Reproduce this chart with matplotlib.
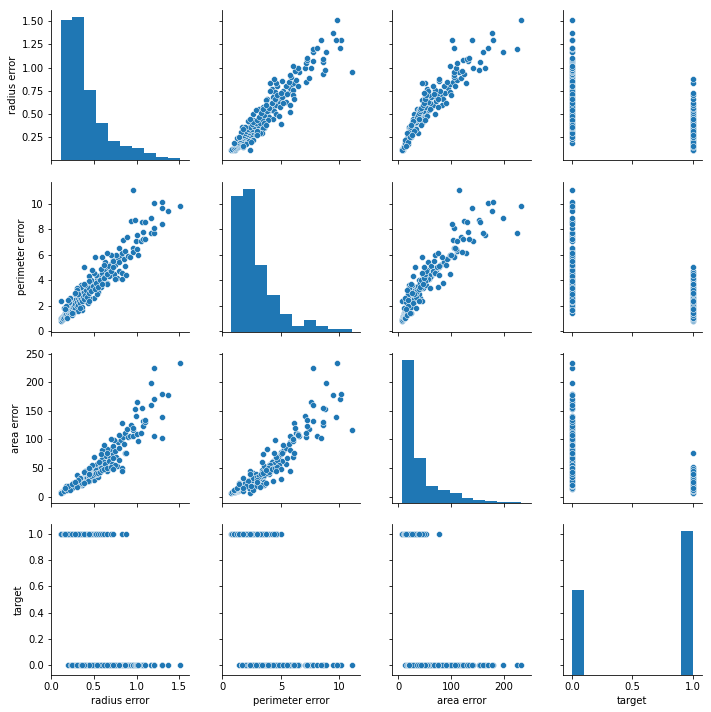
import numpy as np
import matplotlib
matplotlib.use('Agg')
import matplotlib.pyplot as plt

# benign samples (target = 1)
radius_benign = [0.112, 0.115, 0.120, 0.125, 0.130, 0.135, 0.140, 0.145, 0.150, 0.155,
                 0.160, 0.165, 0.170, 0.175, 0.180, 0.185, 0.190, 0.195, 0.200, 0.205,
                 0.210, 0.215, 0.220, 0.225, 0.230, 0.235, 0.240, 0.245, 0.250, 0.255,
                 0.260, 0.265, 0.270, 0.275, 0.280, 0.285, 0.290, 0.300, 0.305, 0.310,
                 0.320, 0.325, 0.330, 0.340, 0.345, 0.350, 0.360, 0.370, 0.380, 0.390,
                 0.400, 0.410, 0.420, 0.440, 0.450, 0.470, 0.490, 0.510, 0.530, 0.550,
                 0.570, 0.600, 0.620, 0.660, 0.700, 0.730, 0.830, 0.880, 0.115, 0.150,
                 0.210, 0.280, 0.350, 0.400, 0.300, 0.190, 0.240, 0.310, 0.360, 0.430,
                 0.180, 0.220, 0.260, 0.300, 0.340, 0.380, 0.200, 0.250, 0.320, 0.450,
                 0.280, 0.160]
perimeter_benign = [0.76, 0.95, 1.05, 0.85, 1.10, 0.98, 1.20, 1.05, 1.30, 1.15,
                    1.40, 1.25, 1.50, 1.10, 1.35, 1.60, 1.20, 1.45, 1.70, 1.30,
                    1.55, 1.85, 1.40, 1.65, 2.00, 1.50, 1.75, 2.10, 1.60, 1.90,
                    2.25, 1.70, 2.00, 2.35, 1.85, 2.15, 2.50, 1.95, 2.30, 2.60,
                    2.05, 2.40, 2.75, 2.20, 2.55, 2.90, 2.35, 2.70, 3.05, 2.50,
                    2.85, 3.20, 2.65, 3.00, 3.40, 3.15, 3.55, 3.30, 3.80, 3.45,
                    4.00, 3.70, 4.20, 4.50, 4.70, 5.00, 4.60, 4.40, 2.36, 1.80,
                    2.30, 2.90, 3.50, 3.60, 3.40, 1.00, 1.25, 1.60, 1.90, 2.20,
                    2.00, 2.60, 1.40, 3.20, 1.80, 3.70, 2.45, 1.45, 2.95, 2.40,
                    3.00, 1.75]
area_benign = [6.8, 7.5, 8.2, 7.9, 9.0, 8.6, 9.5, 10.1, 10.5, 11.0,
               11.5, 12.0, 12.4, 11.8, 13.0, 13.5, 14.0, 14.5, 15.0, 15.3,
               16.0, 16.5, 17.0, 17.4, 18.0, 17.0, 18.5, 19.0, 19.5, 20.0,
               20.5, 19.8, 21.0, 21.5, 22.0, 22.6, 23.0, 23.5, 24.0, 24.8,
               25.0, 25.5, 26.0, 26.5, 27.3, 28.0, 28.5, 29.0, 30.5, 30.0,
               31.5, 32.5, 33.0, 34.0, 35.5, 36.0, 38.0, 39.0, 41.5, 42.0,
               44.0, 46.0, 48.0, 50.0, 52.0, 49.0, 45.0, 77.0, 7.0, 10.0,
               14.5, 18.0, 22.0, 26.0, 21.0, 12.5, 16.0, 20.0, 24.0, 28.0,
               18.0, 12.0, 24.0, 17.0, 33.0, 24.0, 19.0, 23.0, 30.0, 40.0,
               26.0, 15.0]

# malignant samples (target = 0)
radius_malignant = [0.195, 0.230, 0.260, 0.280, 0.300, 0.320, 0.340, 0.360, 0.380, 0.390,
                    0.400, 0.420, 0.430, 0.450, 0.460, 0.480, 0.500, 0.500, 0.520, 0.520,
                    0.540, 0.550, 0.570, 0.590, 0.600, 0.620, 0.640, 0.650, 0.670, 0.690,
                    0.700, 0.720, 0.730, 0.750, 0.770, 0.780, 0.800, 0.820, 0.830, 0.830,
                    0.840, 0.850, 0.870, 0.890, 0.900, 0.920, 0.930, 0.953, 0.953, 0.960,
                    0.977, 0.990, 1.000, 1.000, 1.050, 1.060, 1.070, 1.080, 1.094, 1.100,
                    1.164, 1.170, 1.200, 1.210, 1.210, 1.297, 1.297, 1.297, 1.367, 1.509,
                    0.250, 0.310, 0.350, 0.410, 0.470, 0.530, 0.580, 0.630, 0.680, 0.710,
                    0.760, 0.800, 0.860, 1.020, 0.440, 0.560, 0.660, 0.740,
                    0.300, 0.350, 0.400, 0.450, 0.500, 0.550, 0.600, 0.650, 0.700, 0.750,
                    0.800, 0.480, 0.580, 0.680, 0.620, 0.720, 0.540, 0.440, 0.380, 0.660,
                    0.360]
perimeter_malignant = [1.40, 1.65, 1.90, 2.20, 2.05, 2.45, 2.30, 2.70, 2.55, 5.03,
                       3.00, 2.80, 3.30, 3.10, 3.55, 3.35, 2.59, 3.80, 5.80, 3.60,
                       4.10, 3.90, 4.30, 4.00, 4.55, 4.25, 4.80, 4.50, 5.05, 4.75,
                       5.30, 5.00, 5.60, 5.20, 4.20, 5.75, 5.40, 5.95, 4.08, 6.10,
                       7.17, 5.70, 6.30, 7.38, 5.90, 5.81, 8.62, 11.07, 6.52, 6.20,
                       8.75, 7.04, 7.54, 6.46, 7.10, 8.56, 7.78, 7.20, 8.56, 7.20,
                       8.87, 7.70, 7.70, 10.05, 8.09, 10.13, 9.66, 8.40, 9.44, 9.82,
                       2.40, 2.80, 3.20, 3.50, 4.00, 4.40, 4.90, 5.40, 5.10, 4.40,
                       6.00, 4.70, 5.10, 6.00, 2.60, 3.40, 3.80, 4.50,
                       3.30, 3.60, 2.40, 4.30, 4.60, 3.10, 5.80, 3.70, 6.00, 4.10,
                       6.50, 4.80, 3.50, 4.30, 5.20, 5.50, 2.90, 3.90, 3.40, 6.10,
                       1.65]
area_malignant = [13.0, 16.0, 19.0, 22.0, 24.0, 27.0, 29.0, 32.0, 33.5, 31.0,
                  36.0, 38.0, 40.0, 35.0, 43.0, 46.0, 30.0, 50.0, 45.0, 53.0,
                  58.0, 48.0, 62.0, 55.0, 66.0, 60.0, 72.0, 52.0, 78.0, 68.0,
                  83.0, 74.0, 88.0, 80.0, 54.0, 95.0, 86.0, 99.0, 50.0, 128.0,
                  104.0, 92.0, 112.0, 118.0, 105.0, 106.0, 125.0, 116.0, 106.0, 120.0,
                  153.0, 141.0, 165.0, 110.0, 111.0, 155.0, 132.0, 123.0, 130.0, 134.0,
                  199.0, 160.0, 225.0, 170.0, 106.0, 180.0, 139.0, 102.0, 177.0, 233.0,
                  21.0, 25.0, 30.0, 34.0, 40.0, 47.0, 51.0, 57.0, 62.0, 58.0,
                  70.0, 65.0, 77.0, 98.0, 42.0, 60.0, 84.0, 99.0,
                  38.0, 20.0, 45.0, 28.0, 70.0, 35.0, 82.0, 45.0, 100.0, 56.0,
                  108.0, 55.0, 75.0, 50.0, 90.0, 67.0, 40.0, 50.0, 44.0, 76.0,
                  20.0]

# histogram counts on the diagonal (10 bins between min and max)
radius_counts = [178, 181, 89, 47, 25, 18, 16, 9, 4, 3]
perimeter_counts = [179, 189, 88, 48, 24, 8, 16, 8, 4, 4]
area_counts = [338, 106, 42, 31, 24, 12, 7, 5, 2, 2]
target_counts = [212, 0, 0, 0, 0, 0, 0, 0, 0, 357]
hist_ranges = [(0.1115, 1.509), (0.757, 11.07), (6.802, 233.0), (0.0, 1.0)]

names = ['radius error', 'perimeter error', 'area error', 'target']
limits = [(0.005, 1.617), (-0.05, 11.75), (-11.4, 251.0), (-0.075, 1.075)]
ticks = [[0.25, 0.5, 0.75, 1.0, 1.25, 1.5], [0, 2, 4, 6, 8, 10],
         [0, 50, 100, 150, 200, 250], [0.0, 0.2, 0.4, 0.6, 0.8, 1.0]]
xticks = [[0.0, 0.5, 1.0, 1.5], [0, 5, 10], [0, 100, 200], [0.0, 0.5, 1.0]]
xticklabels = [['0.0', '0.5', '1.0', '1.5'], ['0', '5', '10'], ['0', '100', '200'],
               ['0.0', '0.5', '1.0']]
yticklabels = [['0.25', '0.50', '0.75', '1.00', '1.25', '1.50'],
               ['0', '2', '4', '6', '8', '10'],
               ['0', '50', '100', '150', '200', '250'],
               ['0.0', '0.2', '0.4', '0.6', '0.8', '1.0']]

data = [np.array(radius_malignant + radius_benign),
        np.array(perimeter_malignant + perimeter_benign),
        np.array(area_malignant + area_benign),
        np.array([0.0] * len(radius_malignant) + [1.0] * len(radius_benign))]
counts = [radius_counts, perimeter_counts, area_counts, target_counts]

W, H = 711, 712
fig = plt.figure(figsize=(W / 72, H / 72), dpi=72)
lefts = [51, 221.7, 392.3, 563.3]
tops = [10, 181.5, 353, 524.3]
aw, ah = 138.3, 150.3

for i in range(4):
    for j in range(4):
        ax = fig.add_axes((lefts[j] / W, 1 - (tops[i] + ah) / H, aw / W, ah / H))
        if i == j:
            hax = ax.twinx()
            edges = np.linspace(hist_ranges[j][0], hist_ranges[j][1], 11)
            centers = (edges[:-1] + edges[1:]) / 2
            hax.hist(centers, bins=edges, weights=counts[j], color='C0')
            hax.set_axis_off()
        else:
            ax.scatter(data[j], data[i], s=36, color='C0', edgecolor='w', linewidth=0.5)
        ax.set_xlim(limits[j])
        ax.set_ylim(limits[i])
        if i == j:
            hax.set_xlim(limits[j])
        ax.set_xticks(xticks[j])
        ax.set_yticks(ticks[i])
        ax.spines['top'].set_visible(False)
        ax.spines['right'].set_visible(False)
        if j == 0:
            ax.set_yticklabels(yticklabels[i])
            ax.set_ylabel(names[i])
        else:
            ax.set_yticklabels([])
        if i == 3:
            ax.set_xticklabels(xticklabels[j])
            ax.set_xlabel(names[j])
        else:
            ax.set_xticklabels([])

fig.savefig('out.png', dpi=72)
